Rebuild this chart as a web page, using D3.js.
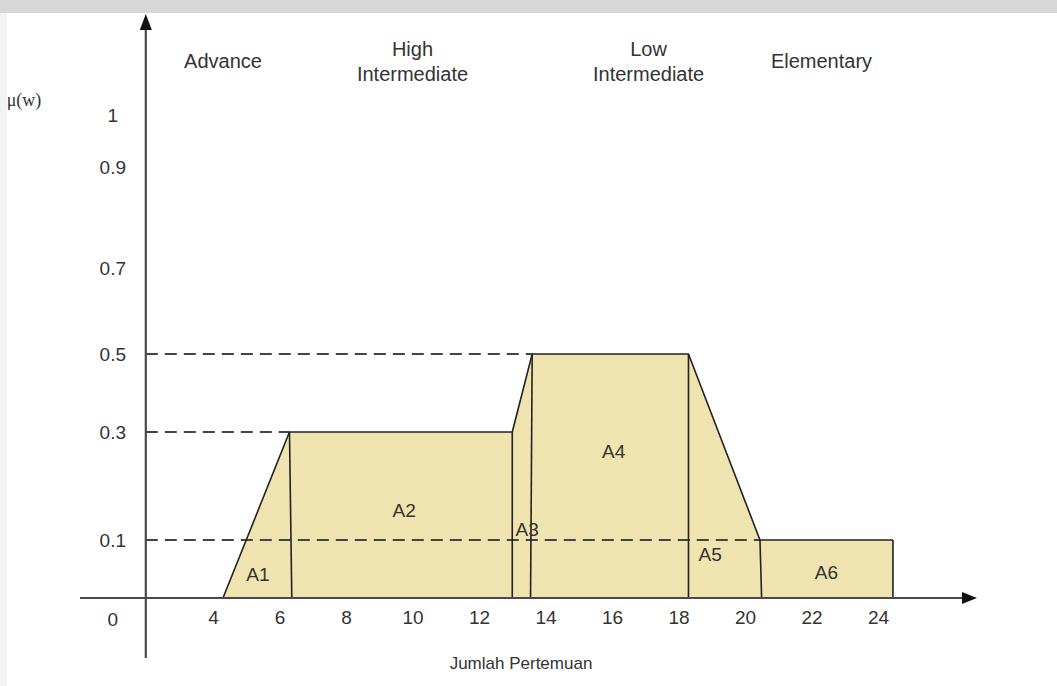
<!DOCTYPE html>
<html>
<head>
<meta charset="utf-8">
<script src="https://cdn.jsdelivr.net/npm/d3@7"></script>
<style>
  html, body { margin: 0; padding: 0; background: #fff; }
  svg { display: block; font-family: "Liberation Sans", Arial, sans-serif; }
</style>
</head>
<body>
<svg id="chart" width="1057" height="686"></svg>
<script>
// Membership curve (Jumlah Pertemuan -> μ(w))
const curveX = [4.3, 6.3, 13.0, 13.6, 18.3, 20.45, 24.45];
const curveY = [0, 0.3, 0.3, 0.5, 0.5, 0.1, 0.1];
// Base of each vertical divider; divider i rises to curve vertex i+1
const dividerBase = [6.37, 13.0, 13.55, 18.3, 20.5, 24.45];
// Sub-area names and where their names sit (x, μ)
const areaNames = ["A1", "A2", "A3", "A4", "A5", "A6"];
const areaNameX = [5.35, 9.75, 13.45, 16.05, 18.95, 22.45];
const areaNameY = [0.04, 0.155, 0.12, 0.265, 0.075, 0.045];
// Dashed guide levels and the curve vertex each one runs to
const guideLevels = [0.3, 0.5, 0.1];
const guideEnds = [6.3, 13.6, 20.45];
// Categories across the top
const categories = [["Advance"], ["High", "Intermediate"], ["Low", "Intermediate"], ["Elementary"]];
const categoryX = [4.3, 10.0, 17.1, 22.3];
// Tick labels
const xTicks = [4, 6, 8, 10, 12, 14, 16, 18, 20, 22, 24];
const yTicks = [0, 0.1, 0.3, 0.5, 0.7, 0.9, 1];

const svg = d3.select("#chart");

// Page frame
svg.append("rect").attr("x", 0).attr("y", 0).attr("width", 1057).attr("height", 13).attr("fill", "#d7d7d7");
svg.append("rect").attr("x", 0).attr("y", 13).attr("width", 7).attr("height", 673).attr("fill", "#f3f3f3");

const x = d3.scaleLinear().domain([4, 24]).range([213, 878]);
const y = d3.scaleLinear().domain(yTicks).range([598, 540, 432, 354, 268, 167, 115]);

const originX = x(2) - 0.7;

// Filled area under the curve
const pts = curveX.map((v, i) => [v, curveY[i]]);
const poly = pts.concat([[curveX[curveX.length - 1], 0], [curveX[0], 0]]);
svg.append("path")
  .attr("d", d3.line().x(d => x(d[0])).y(d => y(d[1]))(poly) + "Z")
  .attr("fill", "#efe3b0")
  .attr("stroke", "none");

// Dashed guides
svg.selectAll("line.guide")
  .data(guideLevels)
  .join("line")
  .attr("class", "guide")
  .attr("x1", originX)
  .attr("x2", (d, i) => x(guideEnds[i]))
  .attr("y1", d => y(d))
  .attr("y2", d => y(d))
  .attr("stroke", "#444")
  .attr("stroke-width", 1.8)
  .attr("stroke-dasharray", "12,7");

// Curve outline
svg.append("path")
  .attr("d", d3.line().x(d => x(d[0])).y(d => y(d[1]))(pts))
  .attr("fill", "none")
  .attr("stroke", "#222")
  .attr("stroke-width", 1.6)
  .attr("stroke-linejoin", "round");

// Dividers between sub-areas
svg.selectAll("line.divider")
  .data(dividerBase)
  .join("line")
  .attr("class", "divider")
  .attr("x1", d => x(d))
  .attr("y1", y(0))
  .attr("x2", (d, i) => x(curveX[i + 1]))
  .attr("y2", (d, i) => y(curveY[i + 1]))
  .attr("stroke", "#222")
  .attr("stroke-width", 1.6);

// Sub-area names
svg.selectAll("text.area")
  .data(areaNames)
  .join("text")
  .attr("class", "area")
  .attr("x", (d, i) => x(areaNameX[i]))
  .attr("y", (d, i) => y(areaNameY[i]))
  .attr("dy", "0.35em")
  .attr("text-anchor", "middle")
  .attr("font-size", 19)
  .attr("fill", "#333")
  .text(d => d);

// Axes lines
svg.append("line")
  .attr("x1", x(0)).attr("x2", 966)
  .attr("y1", y(0)).attr("y2", y(0))
  .attr("stroke", "#4a4a4a").attr("stroke-width", 2.2);
svg.append("path")
  .attr("d", `M977,${y(0)} L962,${y(0) - 6} L962,${y(0) + 6} Z`)
  .attr("fill", "#111");
svg.append("line")
  .attr("x1", originX).attr("x2", originX)
  .attr("y1", 26).attr("y2", 658)
  .attr("stroke", "#4a4a4a").attr("stroke-width", 2.2);
svg.append("path")
  .attr("d", `M${originX},14 L${originX - 6},30 L${originX + 6},30 Z`)
  .attr("fill", "#111");

// X tick labels
const gx = svg.append("g")
  .attr("transform", `translate(0,${y(0)})`)
  .call(d3.axisBottom(x).tickValues(xTicks).tickSize(0).tickPadding(13).tickFormat(d3.format("d")));
gx.select(".domain").remove();
gx.selectAll("text").attr("font-size", 19).attr("fill", "#333").attr("font-family", "Liberation Sans, Arial, sans-serif");

// Y tick labels (origin "0" sits below the corner)
const gy = svg.append("g")
  .attr("transform", `translate(${originX},0)`)
  .call(d3.axisLeft(y).tickValues(yTicks).tickSize(0).tickFormat(d => d3.format("")(d)));
gy.select(".domain").remove();
gy.selectAll("text")
  .attr("x", -33)
  .attr("text-anchor", "middle")
  .attr("font-size", 19)
  .attr("fill", "#333")
  .attr("font-family", "Liberation Sans, Arial, sans-serif")
  .attr("dy", d => d === 0 ? "1.45em" : "0.32em");

// Category titles
categories.forEach((lines, i) => {
  const t = svg.append("text")
    .attr("x", x(categoryX[i]))
    .attr("y", lines.length === 1 ? 61 : 49)
    .attr("text-anchor", "middle")
    .attr("font-size", 20)
    .attr("fill", "#333");
  lines.forEach((s, j) => {
    t.append("tspan")
      .attr("x", x(categoryX[i]))
      .attr("dy", j === 0 ? "0.35em" : "1.25em")
      .text(s);
  });
});

// Axis titles
svg.append("text")
  .attr("x", 24).attr("y", 100).attr("dy", "0.35em")
  .attr("text-anchor", "middle")
  .attr("font-family", "Liberation Serif, 'Times New Roman', serif")
  .attr("font-size", 18)
  .attr("fill", "#333")
  .text("μ(w)");
svg.append("text")
  .attr("x", 521).attr("y", 663).attr("dy", "0.35em")
  .attr("text-anchor", "middle")
  .attr("font-size", 17)
  .attr("fill", "#333")
  .text("Jumlah Pertemuan");
</script>
</body>
</html>
